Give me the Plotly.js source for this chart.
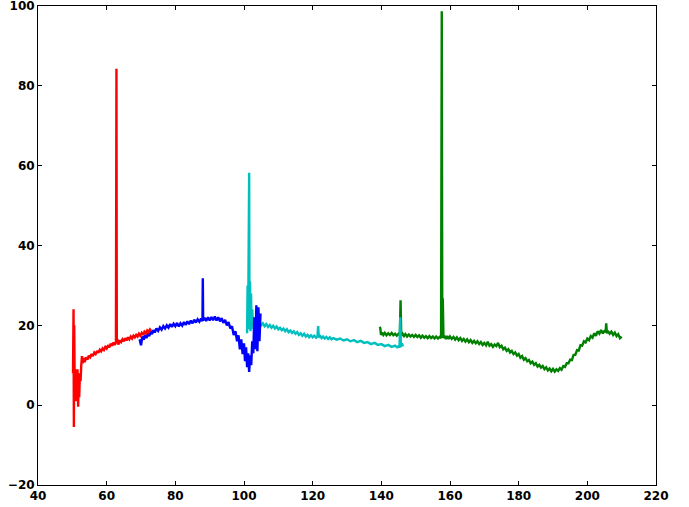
<!DOCTYPE html>
<html>
<head>
<meta charset="utf-8">
<script src="https://cdn.plot.ly/plotly-3.0.1.min.js"></script>
<style>html,body{margin:0;padding:0;background:#fff;}#chart{width:689px;height:507px;}</style>
</head>
<body>
<div id="chart"></div>
<script>
const chartTitle = "Spectrum (a.u.)";
const xTicks = [40, 60, 80, 100, 120, 140, 160, 180, 200, 220];
const yTicks = [-20, 0, 20, 40, 60, 80, 100];

const redX = [50.2,50.35,50.45,50.55,50.7,50.85,51.0,51.15,51.3,51.5,51.7,51.85,52.0,52.2,52.4,52.6,52.8,53.0,53.3,53.6,54.0,54.4,54.8,55.2,55.6,56.0,56.4,56.8,57.2,57.6,58.0,58.4,58.8,59.2,59.6,60.0,60.4,60.8,61.2,61.6,62.0,62.4,62.7,62.85,62.95,63.1,63.4,63.8,64.2,64.6,65.0,65.4,65.8,66.2,66.6,67.0,67.4,67.8,68.2,68.6,69.0,69.4,69.8,70.2,70.6,71.0,71.4,71.8,72.2,72.6,73.0];
const redY = [8,24,-5.5,20,3,9,1,7,4,9,-0.4,6,2,8,6,10,12.3,10.5,11.8,10.8,12,11.4,12.4,12,12.8,12.3,13.2,12.8,13.6,13.1,13.9,13.5,14.2,13.8,14.6,14.2,15,14.5,15.4,14.9,15.7,15.1,15.8,84.3,15.5,16.6,15.2,16.2,15.8,16.5,16,16.8,16.2,17,16.5,17.2,16.7,17.4,17,17.6,17.2,17.9,17.4,18.1,17.6,18.4,18,18.7,18.3,19,18.6];

const blueX = [69.6,70.0,70.4,70.8,71.2,71.6,72.0,72.4,72.8,73.2,73.6,74.0,74.5,75.0,75.5,76.0,76.5,77.0,77.5,78.0,78.5,79.0,79.5,80.0,80.5,81.0,81.5,82.0,82.5,83.0,83.5,84.0,84.5,85.0,85.5,86.0,86.5,87.0,87.5,87.9,88.0,88.1,88.5,89.0,89.5,90.0,90.5,91.0,91.5,92.0,92.5,93.0,93.5,94.0,94.5,95.0,95.5,96.0,96.5,97.0,97.5,98.0,98.4,98.8,99.2,99.6,100.0,100.3,100.6,100.9,101.2,101.5,101.8,102.1,102.4,102.7,103.0,103.3,103.6,103.9,104.2,104.5,104.8];
const blueY = [16.5,15,17.2,16.4,17.6,16.8,18,17.3,18.4,17.8,18.8,18.2,19.2,18.6,19.5,18.9,19.8,19.2,20,19.4,20.3,19.6,20.4,19.8,20.6,19.7,20.5,19.9,20.8,20.1,21,20.3,21.2,20.5,21.4,20.7,21.5,20.9,21.7,21,31.8,21.2,21.9,21.1,22,21.2,22.1,21.3,22.2,21.2,22,21,21.8,20.6,21.4,20,20.8,19.2,19.8,17.6,18.5,16,17.5,14,16.5,12.8,15.5,11,14.5,9.5,13,8.3,12.5,10,16,13,22,14,25,13.5,24.5,16,23];

const cyanX = [100.9,101.05,101.2,101.35,101.5,101.6,101.75,101.9,102.05,102.2,102.4,102.6,102.9,103.2,103.6,104.0,104.5,105.0,105.5,106.0,106.5,107.0,107.5,108.0,108.5,109.0,109.5,110.0,110.5,111.0,111.5,112.0,112.5,113.0,113.5,114.0,114.5,115.0,115.5,116.0,116.5,117.0,117.5,118.0,118.5,119.0,119.5,120.0,120.5,121.0,121.4,121.6,121.8,122.2,122.6,123.0,123.5,124.0,124.5,125.0,125.5,126.0,127.0,128.0,129.0,130.0,131.0,132.0,133.0,134.0,135.0,136.0,137.0,138.0,139.0,140.0,141.0,142.0,143.0,144.0,144.6,145.0,145.3,145.5,145.7,146.0,146.3];
const cyanY = [18,30,19,32,58.2,20,31,18.5,28,19,24,20,21.5,20.3,21,20.2,20.8,20,20.5,19.8,20.3,19.6,20.1,19.4,19.9,19.2,19.7,19,19.4,18.8,19.2,18.5,19,18.3,18.7,18.1,18.5,17.9,18.3,17.6,18,17.4,17.9,17.2,17.6,17,17.5,17,17.4,16.9,17.3,19.8,17,17.3,16.8,17.2,16.7,17.1,16.6,17,16.5,16.8,16.4,16.7,16.2,16.5,16,16.3,15.8,16.1,15.6,15.8,15.3,15.6,15.1,15.3,14.8,15.1,14.6,14.9,14.5,14.8,14.4,22,14.6,15.5,14.7];

const greenX = [139.5,139.7,139.9,140.2,140.6,141.0,141.5,142.0,142.5,143.0,143.5,144.0,144.5,145.0,145.4,145.6,145.8,146.2,146.6,147.0,147.5,148.0,148.5,149.0,149.5,150.0,150.5,151.0,151.5,152.0,152.5,153.0,153.5,154.0,154.5,155.0,155.5,156.0,156.5,157.0,157.4,157.6,157.75,157.9,158.1,158.4,158.8,159.2,159.6,160.0,160.5,161.0,161.5,162.0,162.5,163.0,163.5,164.0,164.5,165.0,165.5,166.0,166.5,167.0,167.5,168.0,168.5,169.0,169.5,170.0,170.5,171.0,171.5,172.0,172.5,173.0,173.5,174.0,174.5,175.0,175.5,176.0,176.5,177.0,177.5,178.0,178.5,179.0,179.5,180.0,180.5,181.0,181.5,182.0,182.5,183.0,183.5,184.0,184.5,185.0,185.5,186.0,186.5,187.0,187.5,188.0,188.5,189.0,189.5,190.0,190.5,191.0,191.5,192.0,192.5,193.0,193.5,194.0,194.5,195.0,195.5,196.0,196.5,197.0,197.5,198.0,198.5,199.0,199.5,200.0,200.5,201.0,201.5,202.0,202.5,203.0,203.5,204.0,204.5,205.0,205.3,205.5,205.7,206.0,206.5,207.0,207.5,208.0,208.5,209.0,209.5,210.0];
const greenY = [19.6,19.3,17.6,18.2,17.6,18.1,17.5,18.0,17.6,18.1,17.5,17.9,17.4,17.9,17.5,26.3,17.4,17.9,17.3,17.8,17.2,17.7,17.2,17.6,17.1,17.6,17.1,17.5,16.9,17.4,16.9,17.3,16.8,17.3,16.8,17.2,16.7,17.2,16.7,17.1,16.8,98.7,17,26.8,16.8,17.4,16.6,17.3,16.6,17.2,16.6,17.1,16.4,17.0,16.3,16.8,16.1,16.6,15.9,16.5,15.8,16.3,15.6,16.1,15.5,16,15.3,15.8,15.1,15.6,15,15.9,14.9,15.3,14.6,15.2,14.8,15.6,14.5,14.9,14.0,14.4,13.6,14.0,13.2,13.6,12.8,13.2,12.4,12.8,11.9,12.3,11.4,11.8,11.0,11.3,10.5,10.9,10.1,10.5,9.7,10.1,9.4,9.8,9.0,9.5,8.7,9.2,8.5,9.1,8.4,9.0,8.6,9.3,8.9,9.8,9.6,10.5,10.5,11.4,11.3,12.6,12.6,13.8,13.7,15.0,14.9,16.0,15.7,16.7,16.3,17.3,16.9,18.0,17.4,18.5,17.9,18.8,18.0,18.7,18.2,20.5,18.0,18.6,17.9,18.4,17.6,18.2,17.3,17.8,16.8,17.2];

function series(x, y, color) {
  return {x: x, y: y, type: 'scatter', mode: 'lines', line: {color: color, width: 2.4}, hoverinfo: 'skip', showlegend: false};
}

const data = [
  series(greenX, greenY, '#008000'),
  series(cyanX, cyanY, '#00bfbf'),
  series(blueX, blueY, '#0000ff'),
  series(redX, redY, '#ff0000')
];

const axisCommon = {
  showgrid: false, zeroline: false, showline: true, linecolor: '#000', linewidth: 1,
  mirror: 'ticks', ticks: 'inside', ticklen: 4, tickwidth: 1, tickcolor: '#000',
  ticklabeloverflow: 'allow',
  tickfont: {family: 'DejaVu Sans', size: 12, color: '#000', weight: 'bold'}
};

const layout = {
  width: 689, height: 507,
  margin: {l: 38, r: 33, t: 6, b: 22, pad: 0},
  paper_bgcolor: '#fff', plot_bgcolor: '#fff',
  annotations: [{
    text: chartTitle, xref: 'paper', yref: 'paper', x: 0.5, y: 1, xanchor: 'center', yanchor: 'bottom',
    yshift: 6, showarrow: false, font: {family: 'DejaVu Sans', size: 14, color: '#000'}
  }],
  xaxis: Object.assign({}, axisCommon, {range: [40, 220], tickvals: xTicks, ticktext: xTicks.map(String)}),
  yaxis: Object.assign({}, axisCommon, {range: [-20, 100], tickvals: yTicks, ticktext: yTicks.map(v => v < 0 ? '\u2212' + Math.abs(v) : String(v))})
};

Plotly.newPlot('chart', data, layout, {displayModeBar: false, staticPlot: true});
</script>
</body>
</html>
